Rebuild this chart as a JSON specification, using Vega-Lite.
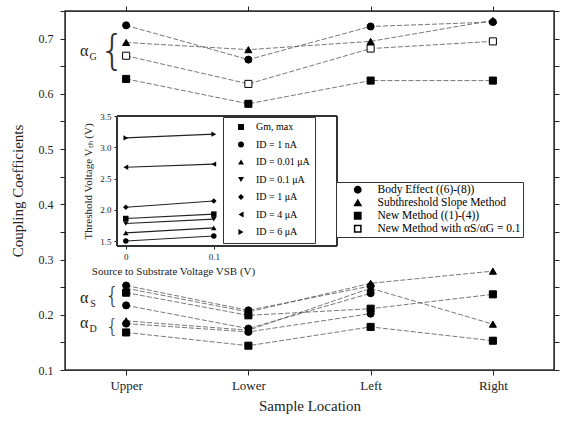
{
  "$schema": "https://vega.github.io/schema/vega-lite/v6.json",
  "width": 489,
  "height": 359,
  "autosize": {"type": "none"},
  "padding": {"left": 65, "top": 11, "right": 11, "bottom": 51},
  "config": {
    "font": "Liberation Serif",
    "view": {"stroke": "#333", "strokeWidth": 1.5},
    "axis": {"grid": false, "labelColor": "#222", "titleColor": "#222", "titleFontWeight": "normal", "domainColor": "#333", "tickColor": "#222"}
  },
  "datasets": {
    "main": [
      {"loc": "Upper", "coef": 0.724, "method": "Body Effect ((6)-(8))", "series": "G1"},
      {"loc": "Lower", "coef": 0.662, "method": "Body Effect ((6)-(8))", "series": "G1"},
      {"loc": "Left", "coef": 0.722, "method": "Body Effect ((6)-(8))", "series": "G1"},
      {"loc": "Right", "coef": 0.730, "method": "Body Effect ((6)-(8))", "series": "G1"},
      {"loc": "Upper", "coef": 0.693, "method": "Subthreshold Slope Method", "series": "G2"},
      {"loc": "Lower", "coef": 0.680, "method": "Subthreshold Slope Method", "series": "G2"},
      {"loc": "Left", "coef": 0.695, "method": "Subthreshold Slope Method", "series": "G2"},
      {"loc": "Right", "coef": 0.733, "method": "Subthreshold Slope Method", "series": "G2"},
      {"loc": "Upper", "coef": 0.627, "method": "New Method ((1)-(4))", "series": "G3"},
      {"loc": "Lower", "coef": 0.582, "method": "New Method ((1)-(4))", "series": "G3"},
      {"loc": "Left", "coef": 0.624, "method": "New Method ((1)-(4))", "series": "G3"},
      {"loc": "Right", "coef": 0.624, "method": "New Method ((1)-(4))", "series": "G3"},
      {"loc": "Upper", "coef": 0.669, "method": "New Method with αS/αG = 0.1", "series": "G4"},
      {"loc": "Lower", "coef": 0.618, "method": "New Method with αS/αG = 0.1", "series": "G4"},
      {"loc": "Left", "coef": 0.682, "method": "New Method with αS/αG = 0.1", "series": "G4"},
      {"loc": "Right", "coef": 0.695, "method": "New Method with αS/αG = 0.1", "series": "G4"},
      {"loc": "Upper", "coef": 0.253, "method": "Body Effect ((6)-(8))", "series": "S1"},
      {"loc": "Lower", "coef": 0.208, "method": "Body Effect ((6)-(8))", "series": "S1"},
      {"loc": "Left", "coef": 0.252, "method": "Body Effect ((6)-(8))", "series": "S1"},
      {"loc": "Upper", "coef": 0.248, "method": "Subthreshold Slope Method", "series": "S2"},
      {"loc": "Lower", "coef": 0.205, "method": "Subthreshold Slope Method", "series": "S2"},
      {"loc": "Left", "coef": 0.257, "method": "Subthreshold Slope Method", "series": "S2"},
      {"loc": "Right", "coef": 0.279, "method": "Subthreshold Slope Method", "series": "S2"},
      {"loc": "Upper", "coef": 0.240, "method": "New Method ((1)-(4))", "series": "S3"},
      {"loc": "Lower", "coef": 0.199, "method": "New Method ((1)-(4))", "series": "S3"},
      {"loc": "Left", "coef": 0.211, "method": "New Method ((1)-(4))", "series": "S3"},
      {"loc": "Right", "coef": 0.237, "method": "New Method ((1)-(4))", "series": "S3"},
      {"loc": "Upper", "coef": 0.217, "method": "Body Effect ((6)-(8))", "series": "D1"},
      {"loc": "Lower", "coef": 0.175, "method": "Body Effect ((6)-(8))", "series": "D1"},
      {"loc": "Left", "coef": 0.239, "method": "Body Effect ((6)-(8))", "series": "D1"},
      {"loc": "Upper", "coef": 0.189, "method": "Subthreshold Slope Method", "series": "D2"},
      {"loc": "Lower", "coef": 0.172, "method": "Subthreshold Slope Method", "series": "D2"},
      {"loc": "Left", "coef": 0.248, "method": "Subthreshold Slope Method", "series": "D2"},
      {"loc": "Right", "coef": 0.183, "method": "Subthreshold Slope Method", "series": "D2"},
      {"loc": "Upper", "coef": 0.184, "method": "Body Effect ((6)-(8))", "series": "D3"},
      {"loc": "Lower", "coef": 0.169, "method": "Body Effect ((6)-(8))", "series": "D3"},
      {"loc": "Left", "coef": 0.202, "method": "Body Effect ((6)-(8))", "series": "D3"},
      {"loc": "Upper", "coef": 0.168, "method": "New Method ((1)-(4))", "series": "D4"},
      {"loc": "Lower", "coef": 0.144, "method": "New Method ((1)-(4))", "series": "D4"},
      {"loc": "Left", "coef": 0.178, "method": "New Method ((1)-(4))", "series": "D4"},
      {"loc": "Right", "coef": 0.153, "method": "New Method ((1)-(4))", "series": "D4"}
    ],
    "notes": [
      {"sym": "α", "sub": "G", "v": 0.678, "brace": 0.676, "bsize": 66},
      {"sym": "α", "sub": "S", "v": 0.231, "brace": 0.233, "bsize": 30},
      {"sym": "α", "sub": "D", "v": 0.186, "brace": 0.177, "bsize": 25}
    ],
    "inset": [
      {"vsb": 0, "vth": 1.86, "curve": "Gm, max"},
      {"vsb": 0.1, "vth": 1.93, "curve": "Gm, max"},
      {"vsb": 0, "vth": 1.50, "curve": "ID = 1 nA"},
      {"vsb": 0.1, "vth": 1.58, "curve": "ID = 1 nA"},
      {"vsb": 0, "vth": 1.63, "curve": "ID = 0.01 μA"},
      {"vsb": 0.1, "vth": 1.71, "curve": "ID = 0.01 μA"},
      {"vsb": 0, "vth": 1.78, "curve": "ID = 0.1 μA"},
      {"vsb": 0.1, "vth": 1.85, "curve": "ID = 0.1 μA"},
      {"vsb": 0, "vth": 2.04, "curve": "ID = 1 μA"},
      {"vsb": 0.1, "vth": 2.14, "curve": "ID = 1 μA"},
      {"vsb": 0, "vth": 2.68, "curve": "ID = 4 μA"},
      {"vsb": 0.1, "vth": 2.73, "curve": "ID = 4 μA"},
      {"vsb": 0, "vth": 3.15, "curve": "ID = 6 μA"},
      {"vsb": 0.1, "vth": 3.21, "curve": "ID = 6 μA"}
    ]
  },
  "layer": [
    {
      "data": {"name": "main"},
      "layer": [
        {
          "mark": {"type": "line", "stroke": "#555", "strokeWidth": 0.8, "strokeDash": [5, 2]},
          "encoding": {
            "x": {"field": "loc", "type": "ordinal", "scale": {"type": "point", "domain": ["Upper", "Lower", "Left", "Right"], "padding": 0.5},
              "axis": {"title": "Sample Location", "labelAngle": 0, "labelFontSize": 13, "titleFontSize": 15, "tickSize": 5, "labelPadding": 4, "titlePadding": 6}},
            "y": {"field": "coef", "type": "quantitative", "scale": {"domain": [0.1, 0.75], "nice": false, "zero": false},
              "axis": {"title": "Coupling Coefficients", "values": [0.1, 0.15, 0.2, 0.25, 0.3, 0.35, 0.4, 0.45, 0.5, 0.55, 0.6, 0.65, 0.7, 0.75],
                "labelExpr": "abs(datum.value*10 - round(datum.value*10)) < 0.001 ? format(datum.value, '.1f') : ''",
                "labelFontSize": 12, "titleFontSize": 15, "tickSize": 5, "labelPadding": 7, "titlePadding": 13}},
            "detail": {"field": "series"}
          }
        },
        {
          "mark": {"type": "point", "filled": true, "stroke": "black", "strokeWidth": 1, "opacity": 1, "size": 50},
          "encoding": {
            "x": {"field": "loc", "type": "ordinal", "axis": null},
            "y": {"field": "coef", "type": "quantitative", "axis": null},
            "shape": {"field": "method", "type": "nominal",
              "scale": {"domain": ["Body Effect ((6)-(8))", "Subthreshold Slope Method", "New Method ((1)-(4))", "New Method with αS/αG = 0.1"], "range": ["circle", "triangle-up", "square", "square"]},
              "legend": {"orient": "none", "legendX": 271, "legendY": 171, "title": null, "strokeColor": "#333", "fillColor": "white", "padding": 2, "labelFontSize": 11.5, "rowPadding": 0, "symbolSize": 40, "symbolOffset": 14, "labelOffset": 14}},
            "fill": {"field": "method", "type": "nominal",
              "scale": {"domain": ["Body Effect ((6)-(8))", "Subthreshold Slope Method", "New Method ((1)-(4))", "New Method with αS/αG = 0.1"], "range": ["black", "black", "black", "white"]},
              "legend": {"orient": "none", "legendX": 271, "legendY": 171, "title": null, "strokeColor": "#333", "fillColor": "white", "padding": 2, "labelFontSize": 11.5, "rowPadding": 0, "symbolSize": 40, "symbolOffset": 14, "labelOffset": 14}}
          }
        },
        {
          "data": {"name": "notes"},
          "mark": {"type": "text", "fontSize": 16, "dx": -42, "align": "center", "baseline": "middle", "color": "#222"},
          "encoding": {
            "x": {"datum": "Upper", "type": "ordinal", "axis": null},
            "y": {"field": "v", "type": "quantitative", "axis": null},
            "text": {"field": "sym"}
          }
        },
        {
          "data": {"name": "notes"},
          "mark": {"type": "text", "fontSize": 10, "dx": -33, "dy": 6, "align": "center", "baseline": "middle", "color": "#222"},
          "encoding": {
            "x": {"datum": "Upper", "type": "ordinal", "axis": null},
            "y": {"field": "v", "type": "quantitative", "axis": null},
            "text": {"field": "sub"}
          }
        },
        {
          "data": {"name": "notes"},
          "mark": {"type": "text", "dx": -14, "align": "center", "baseline": "middle", "color": "#333", "font": "DejaVu Sans", "fontWeight": 200},
          "encoding": {
            "x": {"datum": "Upper", "type": "ordinal", "axis": null},
            "y": {"field": "brace", "type": "quantitative", "axis": null},
            "size": {"field": "bsize", "type": "quantitative", "scale": {"type": "identity"}, "legend": null},
            "text": {"value": "{"}
          }
        },
        {
          "mark": {"type": "point", "opacity": 0},
          "encoding": {
            "x": {"field": "loc", "type": "ordinal", "axis": {"orient": "top", "labels": false, "title": null, "tickSize": 5}},
            "y": {"field": "coef", "type": "quantitative", "axis": {"orient": "right", "labels": false, "title": null, "tickSize": 5, "values": [0.1, 0.15, 0.2, 0.25, 0.3, 0.35, 0.4, 0.45, 0.5, 0.55, 0.6, 0.65, 0.7, 0.75]}}
          }
        }
      ],
      "resolve": {"axis": {"x": "independent", "y": "independent"}}
    },
    {
      "data": {"name": "inset"},
      "layer": [
        {
          "mark": {"type": "rect", "fill": "white", "fillOpacity": 0, "stroke": "#333", "strokeWidth": 1},
          "encoding": {
            "x": {"datum": -0.01, "type": "quantitative", "scale": {"domain": [-0.01, 0.24], "range": [52, 272], "nice": false, "zero": false},
              "axis": {"orient": "bottom", "offset": -124, "values": [0, 0.1], "format": "~g", "labelFontSize": 9, "tickSize": 3, "labelPadding": 3, "domain": false,
                "title": "Source to Substrate Voltage VSB (V)", "titleFontSize": 11, "titlePadding": 4, "titleX": 108}},
            "x2": {"datum": 0.24},
            "y": {"datum": 1.42, "type": "quantitative", "scale": {"domain": [1.42, 3.5], "range": [235, 105], "nice": false, "zero": false},
              "axis": {"orient": "left", "offset": -52, "values": [1.5, 2, 2.5, 3, 3.5], "format": ".1f", "labelFontSize": 9, "tickSize": 3, "labelPadding": 3, "domain": false,
                "title": "Threshold Voltage Vₜₕ (V)", "titleFontSize": 11, "titlePadding": 6}},
            "y2": {"datum": 3.5}
          }
        },
        {
          "mark": {"type": "line", "color": "#222", "strokeWidth": 1.2},
          "encoding": {
            "x": {"field": "vsb", "type": "quantitative"},
            "y": {"field": "vth", "type": "quantitative"},
            "detail": {"field": "curve"}
          }
        },
        {
          "mark": {"type": "point", "filled": true, "color": "black", "opacity": 1, "size": 30},
          "encoding": {
            "x": {"field": "vsb", "type": "quantitative"},
            "y": {"field": "vth", "type": "quantitative"},
            "shape": {"field": "curve", "type": "nominal",
              "scale": {"domain": ["Gm, max", "ID = 1 nA", "ID = 0.01 μA", "ID = 0.1 μA", "ID = 1 μA", "ID = 4 μA", "ID = 6 μA"],
                "range": ["square", "circle", "triangle-up", "triangle-down", "diamond", "triangle-left", "triangle-right"]},
              "legend": {"orient": "none", "legendX": 158, "legendY": 106, "title": null, "strokeColor": "#333", "fillColor": "white", "padding": 5, "labelFontSize": 10, "rowPadding": 5.5, "symbolSize": 35, "symbolFillColor": "black", "symbolStrokeColor": "black", "symbolOffset": 8, "labelOffset": 10}}
          }
        }
      ]
    }
  ],
  "resolve": {
    "scale": {"x": "independent", "y": "independent", "shape": "independent", "fill": "independent", "size": "independent"},
    "axis": {"x": "independent", "y": "independent"},
    "legend": {"shape": "independent", "fill": "independent"}
  }
}
